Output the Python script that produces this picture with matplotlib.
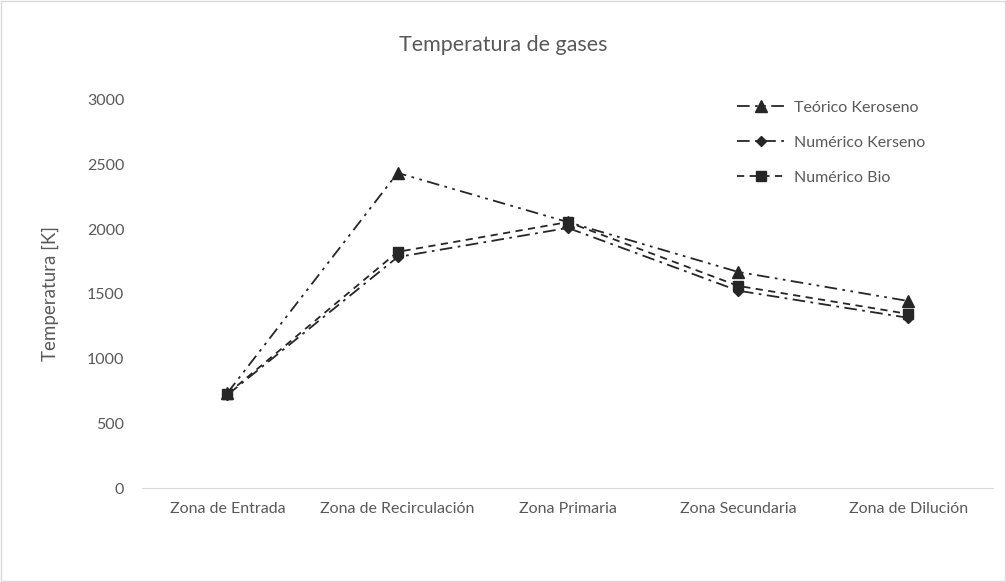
import matplotlib
matplotlib.use("Agg")
import matplotlib.pyplot as plt

# Gas temperature along the combustor zones
zonas = ["Zona de Entrada", "Zona de Recirculación", "Zona Primaria",
         "Zona Secundaria", "Zona de Dilución"]
teorico_keroseno = [735, 2435, 2055, 1670, 1445]
numerico_kerseno = [720, 1785, 2010, 1525, 1315]
numerico_bio = [728, 1825, 2055, 1562, 1345]

plt.rcParams['font.family'] = ['Lato', 'DejaVu Sans']

fig = plt.figure(figsize=(10.06, 5.82), dpi=100)
ax = fig.add_axes([0.1415, 0.1615, 0.846, 0.667])

x = list(range(len(zonas)))
color = '#262626'
ax.plot(x, teorico_keroseno, color=color, lw=1.3, dashes=(7, 3, 1.5, 3, 1.5, 3),
        marker='^', ms=8, label='Teórico Keroseno')
ax.plot(x, numerico_kerseno, color=color, lw=1.3, dashes=(7, 3, 1.5, 3),
        marker='D', ms=5.5, label='Numérico Kerseno')
ax.plot(x, numerico_bio, color=color, lw=1.3, dashes=(4, 3),
        marker='s', ms=6.5, label='Numérico Bio')

ax.set_xlim(-0.5, len(zonas) - 0.5)
ax.set_ylim(0, 3000)
ax.set_yticks(range(0, 3001, 500))
ax.set_xticks(x)
ax.set_xticklabels(zonas)

for side in ['top', 'right', 'left']:
    ax.spines[side].set_visible(False)
ax.spines['bottom'].set_color('#d9d9d9')
ax.tick_params(axis='both', length=0, labelsize=11.5, colors='#595959')
ax.tick_params(axis='x', pad=10)
ax.tick_params(axis='y', pad=13)

ax.set_ylabel('Temperatura [K]', fontsize=13.5, color='#595959', labelpad=20)
fig.text(0.5, 0.922, 'Temperatura de gases', ha='center', va='center',
         fontsize=15.5, color='#595959')

leg = ax.legend(loc='upper right', bbox_to_anchor=(0.937, 1.035), frameon=False,
                fontsize=11.5, handlelength=3.0, handletextpad=0.6, labelspacing=1.3)
for t in leg.get_texts():
    t.set_color('#595959')

# light chart border
fig.patches.append(plt.Rectangle((0.001, 0.001), 0.998, 0.998, transform=fig.transFigure,
                                 fill=False, edgecolor='#d9d9d9', lw=1))

fig.savefig('out.png', dpi=100)
